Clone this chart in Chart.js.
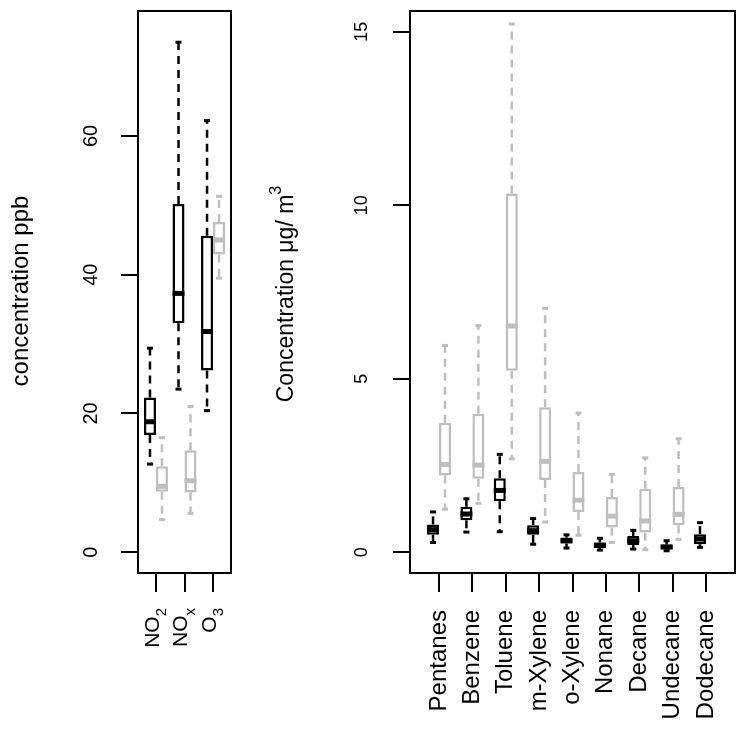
<!DOCTYPE html>
<html>
<head>
<meta charset="utf-8">
<script src="https://cdn.jsdelivr.net/npm/chart.js@4/dist/chart.umd.min.js"></script>
<style>
html, body { margin: 0; padding: 0; background: #fff; }
#wrap { position: relative; width: 746px; height: 730px; overflow: hidden; }
canvas { position: absolute; top: 0; }
#left { left: 0; }
#right { left: 250px; }
</style>
</head>
<body>
<div id="wrap">
	<canvas id="left" width="250" height="730"></canvas>
	<canvas id="right" width="496" height="730"></canvas>
</div>
<script>
// box stats: [min, q1, median, q3, max]
const gasLabels = ['NO_2', 'NO_x', 'O_3'];
const gasBlack = [
	[12.7, 16.9, 18.8, 22.3, 29.4],
	[23.5, 33.0, 37.3, 50.2, 73.5],
	[20.4, 26.2, 31.8, 45.6, 62.2]
];
const gasGrey = [
	[4.7, 8.7, 9.5, 12.4, 16.5],
	[5.6, 8.6, 10.3, 14.7, 21.0],
	[39.5, 42.9, 45.0, 47.6, 51.3]
];
const gasTicks = [0, 20, 40, 60];

const vocLabels = ['Pentanes', 'Benzene', 'Toluene', 'm-Xylene', 'o-Xylene', 'Nonane', 'Decane', 'Undecane', 'Dodecane'];
const vocBlack = [
	[0.28, 0.50, 0.65, 0.80, 1.16],
	[0.58, 0.92, 1.10, 1.31, 1.54],
	[0.59, 1.47, 1.78, 2.13, 2.82],
	[0.23, 0.50, 0.62, 0.78, 0.97],
	[0.12, 0.25, 0.33, 0.42, 0.50],
	[0.06, 0.12, 0.20, 0.28, 0.40],
	[0.09, 0.21, 0.33, 0.47, 0.63],
	[0.04, 0.08, 0.15, 0.22, 0.33],
	[0.14, 0.23, 0.38, 0.52, 0.85]
];
const vocGrey = [
	[1.24, 2.21, 2.53, 3.73, 5.96],
	[1.41, 2.12, 2.51, 3.99, 6.53],
	[2.69, 5.23, 6.52, 10.34, 15.23],
	[0.87, 2.08, 2.62, 4.18, 7.03],
	[0.49, 1.16, 1.50, 2.31, 4.01],
	[0.28, 0.71, 1.04, 1.59, 2.24],
	[0.07, 0.57, 0.90, 1.83, 2.72],
	[0.37, 0.78, 1.09, 1.88, 3.27],
	null
];
const vocTicks = [0, 5, 10, 15];

const FONT = '"Liberation Sans", Arial, Helvetica, sans-serif';
const BLACK = '#000000';
const GREY = '#bebebe';

function boxSet(stats, color) {
	return {
		data: stats.map((s, i) => ({ x: i + 1, y: s ? [s[1], s[3]] : null })),
		stats: stats,
		backgroundColor: '#ffffff',
		borderColor: color,
		borderWidth: 2.5,
		borderSkipped: false,
		barThickness: 12,
		inflateAmount: 0
	};
}

function seg(ctx, x1, y1, x2, y2) {
	ctx.beginPath();
	ctx.moveTo(x1, y1);
	ctx.lineTo(x2, y2);
	ctx.stroke();
}

function upText(ctx, text, x, y, align) {
	ctx.save();
	ctx.translate(x, y);
	ctx.rotate(-Math.PI / 2);
	ctx.textAlign = align || 'center';
	ctx.fillText(text, 0, 0);
	ctx.restore();
}

// whiskers, staples and medians on top of the floating bars
const boxParts = {
	id: 'boxParts',
	afterDatasetsDraw(chart) {
		const ctx = chart.ctx;
		const y = chart.scales.y;
		chart.data.datasets.forEach((ds, di) => {
			const meta = chart.getDatasetMeta(di);
			ds.stats.forEach((s, i) => {
				if (!s) return;
				const bar = meta.data[i];
				const cx = bar.x;
				const half = bar.width / 2;
				const p = s.map(v => y.getPixelForValue(v));
				ctx.save();
				ctx.strokeStyle = ds.borderColor;
				ctx.lineCap = 'butt';
				ctx.lineWidth = 2.5;
				ctx.setLineDash([8, 6]);
				seg(ctx, cx, p[3], cx, p[4]);
				seg(ctx, cx, p[1], cx, p[0]);
				ctx.setLineDash([]);
				ctx.lineWidth = 3;
				seg(ctx, cx - half / 2, p[4], cx + half / 2, p[4]);
				seg(ctx, cx - half / 2, p[0], cx + half / 2, p[0]);
				ctx.lineWidth = 5;
				seg(ctx, cx - half, p[2], cx + half, p[2]);
				ctx.restore();
			});
		});
	}
};

// R style frame, rotated labels and titles
const rFrame = {
	id: 'rFrame',
	afterDraw(chart, args, opts) {
		const { ctx, chartArea: a, scales } = chart;
		ctx.save();
		ctx.strokeStyle = '#000';
		ctx.fillStyle = '#000';
		ctx.lineWidth = 2;
		ctx.strokeRect(a.left, a.top, a.right - a.left, a.bottom - a.top);
		ctx.textBaseline = 'middle';

		ctx.font = opts.tickSize + 'px ' + FONT;
		scales.y.ticks.forEach(t => {
			upText(ctx, String(t.value), opts.tickX, scales.y.getPixelForValue(t.value));
		});

		opts.labels.forEach((lab, i) => {
			const x = scales.x.getPixelForValue(i + 1);
			const parts = lab.split('_');
			if (parts.length > 1) {
				ctx.font = opts.subSize + 'px ' + FONT;
				const ws = ctx.measureText(parts[1]).width;
				upText(ctx, parts[1], x + 6, opts.labelEnd, 'right');
				ctx.font = opts.labelSize + 'px ' + FONT;
				upText(ctx, parts[0], x - 3, opts.labelEnd + ws, 'right');
			} else {
				ctx.font = opts.labelSize + 'px ' + FONT;
				upText(ctx, lab, x, opts.labelEnd, 'right');
			}
		});

		const t = opts.title;
		ctx.font = opts.titleSize + 'px ' + FONT;
		const wm = ctx.measureText(t[0]).width;
		let wsup = 0;
		if (t[1]) {
			ctx.font = opts.supSize + 'px ' + FONT;
			wsup = ctx.measureText(t[1]).width;
		}
		const start = opts.titleY + (wm + wsup) / 2;
		ctx.font = opts.titleSize + 'px ' + FONT;
		upText(ctx, t[0], opts.titleX, start, 'left');
		if (t[1]) {
			ctx.font = opts.supSize + 'px ' + FONT;
			upText(ctx, t[1], opts.titleX - 10, start - wm, 'left');
		}
		ctx.restore();
	}
};

function makeChart(id, labels, black, grey, ticks, xr, yr, pad, frame) {
	return new Chart(document.getElementById(id), {
		type: 'bar',
		data: {
			datasets: [boxSet(black, BLACK), boxSet(grey, GREY)]
		},
		options: {
			responsive: false,
			animation: false,
			events: [],
			layout: { padding: pad },
			plugins: {
				legend: { display: false },
				tooltip: { enabled: false },
				rFrame: Object.assign({ labels: labels }, frame)
			},
			scales: {
				x: {
					type: 'linear',
					min: xr[0],
					max: xr[1],
					offset: false,
					grid: { drawOnChartArea: false, offset: false, color: '#000', lineWidth: 2, tickLength: 19 },
					border: { display: false },
					ticks: { display: false },
					afterBuildTicks: s => { s.ticks = labels.map((_, i) => ({ value: i + 1 })); },
					afterFit: s => { s.height = 19; }
				},
				y: {
					type: 'linear',
					min: yr[0],
					max: yr[1],
					grid: { drawOnChartArea: false, color: '#000', lineWidth: 2, tickLength: 17 },
					border: { display: false },
					ticks: { display: false },
					afterBuildTicks: s => { s.ticks = ticks.map(v => ({ value: v })); },
					afterFit: s => { s.width = 17; }
				}
			}
		},
		plugins: [boxParts, rFrame]
	});
}

makeChart('left', gasLabels, gasBlack, gasGrey, gasTicks, [0.37, 3.63], [-3, 78],
	{ left: 121, right: 19, top: 11, bottom: 138 },
	{ tickX: 91, tickSize: 20, labelEnd: 608, labelSize: 21, subSize: 15,
	  title: ['concentration ppb'], titleX: 21, titleY: 291, titleSize: 24 });

makeChart('right', vocLabels, vocBlack, vocGrey, vocTicks, [0.13, 9.87], [-0.6, 15.6],
	{ left: 143, right: 11, top: 11, bottom: 138 },
	{ tickX: 112, tickSize: 18, labelEnd: 610, labelSize: 24, subSize: 17,
	  title: ['Concentration \u03bcg/ m', '3'], titleX: 37, titleY: 294, titleSize: 23, supSize: 16 });
</script>
</body>
</html>
